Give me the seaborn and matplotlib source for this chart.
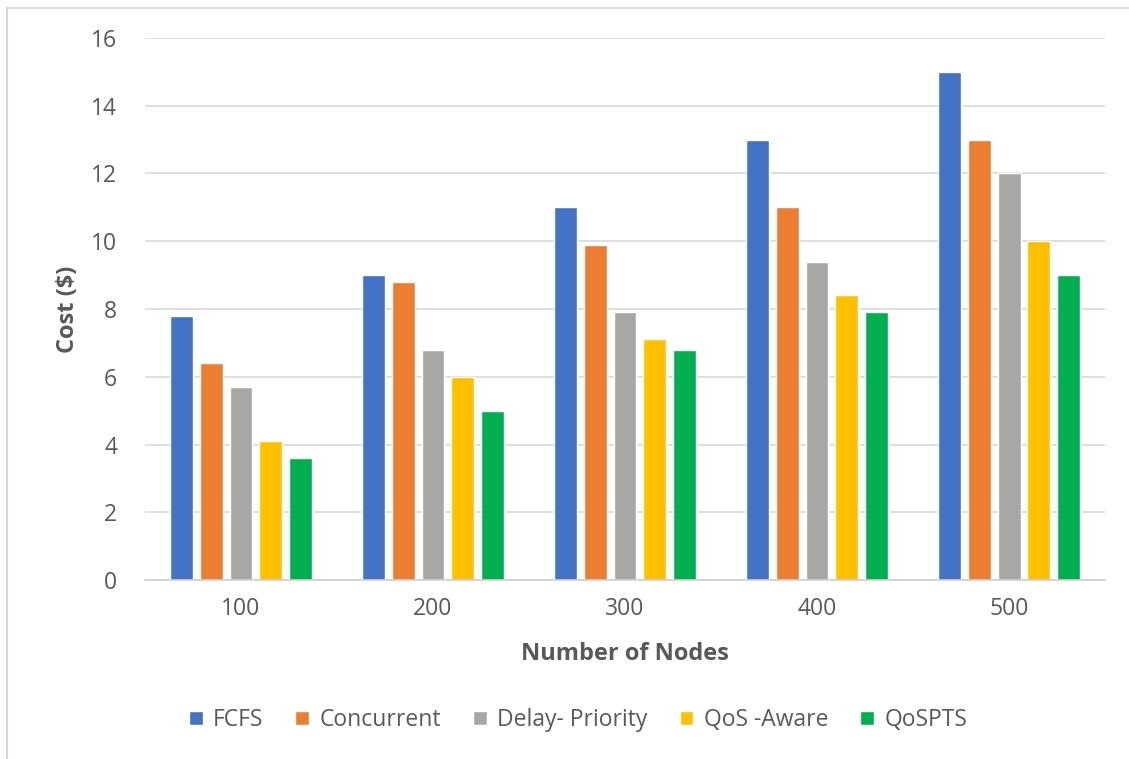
import matplotlib
matplotlib.use("Agg")
import matplotlib.pyplot as plt
import seaborn as sns
import pandas as pd
import numpy as np
from matplotlib.lines import Line2D

nodes = ["100", "200", "300", "400", "500"]
methods = ["FCFS", "Concurrent", "Delay- Priority", "QoS -Aware", "QoSPTS"]
fcfs = [7.8, 9.0, 11.0, 13.0, 15.0]
concurrent = [6.4, 8.8, 9.9, 11.0, 13.0]
delay_priority = [5.7, 6.8, 7.9, 9.4, 12.0]
qos_aware = [4.1, 6.0, 7.1, 8.4, 10.0]
qospts = [3.6, 5.0, 6.8, 7.9, 9.0]
colors = ["#4472C4", "#ED7D31", "#A9A7A6", "#FFC000", "#00B050"]

series = [fcfs, concurrent, delay_priority, qos_aware, qospts]
rows = []
for m, vals in zip(methods, series):
    for n, v in zip(nodes, vals):
        rows.append({"Nodes": n, "Method": m, "Cost": v})
df = pd.DataFrame(rows)

sns.set_theme(style="white")
plt.rcParams["font.family"] = ["Open Sans", "DejaVu Sans"]

fig = plt.figure(figsize=(11.29, 7.59), dpi=100)
ax = fig.add_axes([0.1284, 0.2358, 0.8504, 0.7142])

sns.barplot(data=df, x="Nodes", y="Cost", hue="Method", order=nodes,
            hue_order=methods, palette=colors, width=0.775, gap=0.23,
            ax=ax, saturation=1, legend=True)

ax.set_ylim(0, 16)
ax.set_xlim(-0.5, 4.5)
ax.set_yticks(range(0, 17, 2))
ax.yaxis.grid(True, color="#D9D9D9", linewidth=1.2)
ax.set_axisbelow(True)
for s in ["top", "right", "left"]:
    ax.spines[s].set_visible(False)
ax.spines["bottom"].set_color("#D0D0D0")
ax.spines["bottom"].set_linewidth(1.2)

ax.set_xticks(range(5))
ax.set_xticks(np.arange(-0.5, 5.0, 1.0), minor=True)
ax.tick_params(axis="x", which="major", length=0, pad=12, labelsize=16.5, labelcolor="#595959")
ax.tick_params(axis="x", which="minor", length=5.5, width=1.2, color="#D0D0D0")
ax.tick_params(axis="y", length=0, pad=20, labelsize=16.5, labelcolor="#595959")

ax.set_xlabel("Number of Nodes", fontsize=17, fontweight="bold", color="#595959", labelpad=15)
ax.set_ylabel("Cost ($)", fontsize=17, fontweight="bold", color="#595959", labelpad=8)

ax.legend(loc="center", bbox_to_anchor=(578 / 1129, 1 - 720 / 759),
          bbox_transform=fig.transFigure, ncol=5, frameon=False,
          fontsize=16.5, labelcolor="#595959", handlelength=0.6, handleheight=0.6,
          handletextpad=0.45, columnspacing=1.4)

fig.add_artist(Line2D([7/1129, 7/1129], [1 - 8/759, 0], color="#D9D9D9", linewidth=1.5, transform=fig.transFigure))
fig.add_artist(Line2D([7/1129, 1], [1 - 8/759, 1 - 8/759], color="#D9D9D9", linewidth=1.5, transform=fig.transFigure))

fig.savefig("out.png", dpi=100)
